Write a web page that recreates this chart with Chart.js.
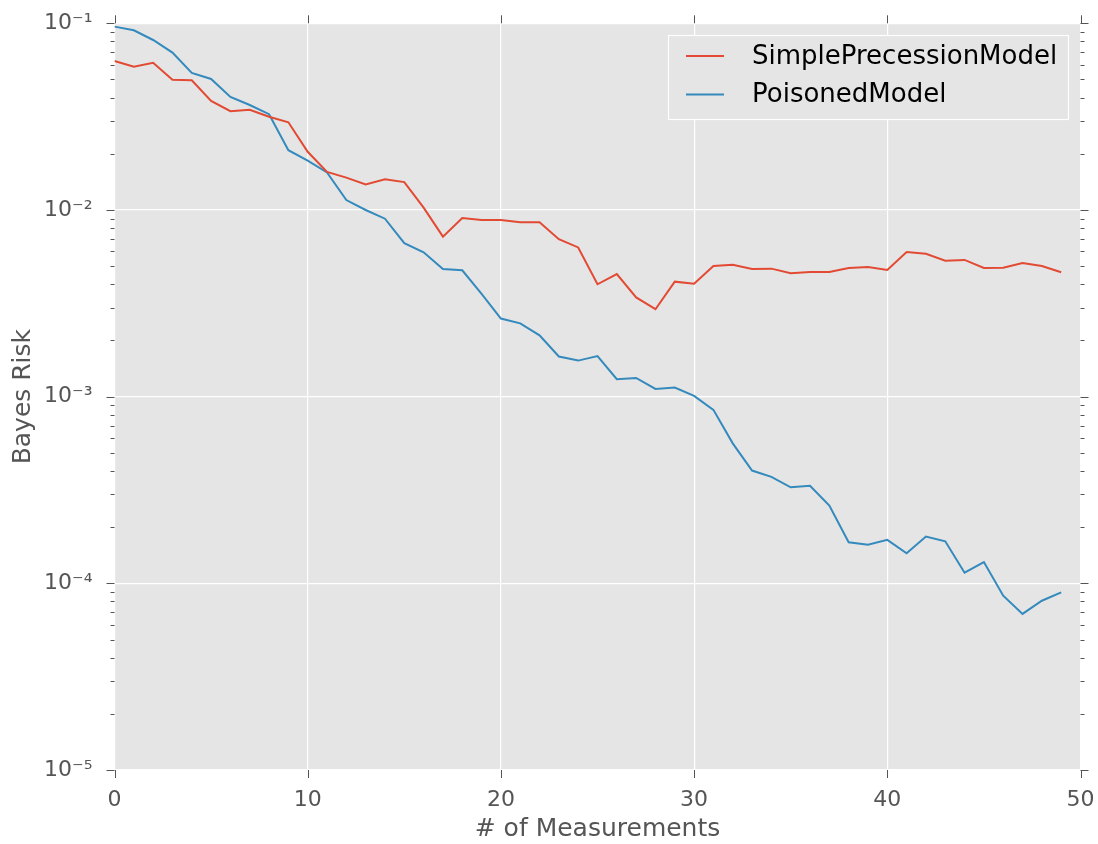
<!DOCTYPE html>
<html lang="en">
  <head>
    <meta charset="UTF-8" />
    <title>Bayes Risk vs Measurements</title>
    <script src="https://cdn.jsdelivr.net/npm/chart.js"></script>
    <style>
      html, body { margin: 0; padding: 0; background: #ffffff; }
      canvas { display: block; }
    </style>
  </head>
  <body>
    <canvas id="riskChart" width="1098" height="844"></canvas>

    <script>
      // --- data ---
      const measurements = [
        0, 1, 2, 3, 4, 5, 6, 7, 8, 9, 10, 11, 12, 13, 14, 15, 16, 17, 18, 19, 20, 21, 22, 23, 24,
        25, 26, 27, 28, 29, 30, 31, 32, 33, 34, 35, 36, 37, 38, 39, 40, 41, 42, 43, 44, 45, 46, 47, 48, 49,
      ];

      const simplePrecessionRisk = [
        0.0628, 0.0585, 0.0615, 0.0499, 0.0495, 0.0384, 0.0338, 0.0344, 0.0316, 0.0295,
        0.0205, 0.016, 0.0149, 0.0137, 0.0146, 0.0141, 0.0103, 0.0072, 0.00906, 0.00884,
        0.00884, 0.0086, 0.0086, 0.00697, 0.0063, 0.004, 0.00454, 0.0034, 0.00294, 0.00413,
        0.00403, 0.00501, 0.00509, 0.00483, 0.00485, 0.00458, 0.00466, 0.00466, 0.00489, 0.00495,
        0.00477, 0.00596, 0.00583, 0.00535, 0.0054, 0.00489, 0.0049, 0.0052, 0.00501, 0.00464,
      ];

      const poisonedRisk = [
        0.096, 0.0917, 0.0814, 0.0697, 0.0542, 0.0503, 0.0403, 0.0365, 0.0326, 0.0209,
        0.0184, 0.0159, 0.0113, 0.01, 0.00898, 0.00664, 0.00593, 0.00483, 0.00475, 0.00355,
        0.00262, 0.00247, 0.00213, 0.00164, 0.00156, 0.00165, 0.00124, 0.00126, 0.0011, 0.00112,
        0.00101, 0.00085, 0.000562, 0.000402, 0.000372, 0.000327, 0.000333, 0.000261, 0.000166, 0.000161,
        0.000171, 0.000145, 0.000178, 0.000168, 0.000114, 0.00013, 0.0000859, 0.0000686, 0.0000807, 0.0000895,
      ];

      const seriesNames = ["SimplePrecessionModel", "PoisonedModel"];
      const xTickValues = [0, 10, 20, 30, 40, 50];
      const yTickValues = [1e-5, 1e-4, 1e-3, 1e-2, 1e-1];
      const yTickLabels = ["10\u207B\u2075", "10\u207B\u2074", "10\u207B\u00B3", "10\u207B\u00B2", "10\u207B\u00B9"];

      const FONT = "'DejaVu Sans', 'Liberation Sans', sans-serif";
      const TEXT_GREY = "#555555";
      const PANEL_BG = "#E5E5E5";

      // grey panel behind the plot
      const panelBackground = {
        id: "panelBackground",
        beforeDraw(chart) {
          const { ctx, chartArea: a } = chart;
          ctx.save();
          ctx.fillStyle = PANEL_BG;
          ctx.fillRect(a.left, a.top, a.right - a.left, a.bottom - a.top);
          ctx.restore();
        },
      };

      // outward tick marks on all four sides, plus log minor ticks
      const tickMarks = {
        id: "tickMarks",
        afterDraw(chart) {
          const { ctx, chartArea: a } = chart;
          const xs = chart.scales.x;
          const ys = chart.scales.y;
          ctx.save();
          ctx.strokeStyle = TEXT_GREY;
          ctx.lineWidth = 1;
          ctx.beginPath();
          xTickValues.forEach((v) => {
            const px = Math.round(xs.getPixelForValue(v)) + 0.5;
            ctx.moveTo(px, a.bottom);
            ctx.lineTo(px, a.bottom + 8);
            ctx.moveTo(px, a.top);
            ctx.lineTo(px, a.top - 8);
          });
          yTickValues.forEach((v) => {
            const py = Math.round(ys.getPixelForValue(v)) + 0.5;
            ctx.moveTo(a.left, py);
            ctx.lineTo(a.left - 8, py);
            ctx.moveTo(a.right, py);
            ctx.lineTo(a.right + 8, py);
          });
          yTickValues.slice(0, -1).forEach((base) => {
            for (let m = 2; m <= 9; m++) {
              const py = Math.round(ys.getPixelForValue(base * m)) + 0.5;
              ctx.moveTo(a.left, py);
              ctx.lineTo(a.left - 4, py);
              ctx.moveTo(a.right, py);
              ctx.lineTo(a.right + 4, py);
            }
          });
          ctx.stroke();
          ctx.restore();
        },
      };

      // legend box inside the upper right of the plot
      const insideLegend = {
        id: "insideLegend",
        afterDraw(chart) {
          const { ctx } = chart;
          const box = { left: 668.5, top: 35.5, right: 1068.5, bottom: 119.5 };
          const rows = [56, 94.5];
          ctx.save();
          ctx.fillStyle = PANEL_BG;
          ctx.fillRect(box.left, box.top, box.right - box.left, box.bottom - box.top);
          ctx.strokeStyle = "#ffffff";
          ctx.lineWidth = 1.2;
          ctx.strokeRect(box.left, box.top, box.right - box.left, box.bottom - box.top);
          ctx.font = "26px " + FONT;
          ctx.textBaseline = "middle";
          ctx.textAlign = "left";
          chart.data.datasets.forEach((ds, i) => {
            ctx.strokeStyle = ds.borderColor;
            ctx.lineWidth = 2;
            ctx.beginPath();
            ctx.moveTo(686, rows[i]);
            ctx.lineTo(724, rows[i]);
            ctx.stroke();
            ctx.fillStyle = "#000000";
            ctx.fillText(ds.label, 752, rows[i] + 1);
          });
          ctx.restore();
        },
      };

      const ctx = document.getElementById("riskChart").getContext("2d");
      new Chart(ctx, {
        type: "line",
        data: {
          labels: measurements,
          datasets: [
            {
              label: seriesNames[0],
              data: simplePrecessionRisk,
              borderColor: "#E24A33",
              borderWidth: 2,
              pointRadius: 0,
              tension: 0,
            },
            {
              label: seriesNames[1],
              data: poisonedRisk,
              borderColor: "#348ABD",
              borderWidth: 2,
              pointRadius: 0,
              tension: 0,
            },
          ],
        },
        options: {
          responsive: false,
          animation: false,
          devicePixelRatio: 1,
          layout: { padding: { top: 23.3, right: 17.5, left: 0, bottom: 0 } },
          plugins: {
            legend: { display: false },
            tooltip: { enabled: false },
          },
          scales: {
            x: {
              type: "linear",
              min: 0,
              max: 50,
              afterBuildTicks(scale) {
                scale.ticks = xTickValues.map((v) => ({ value: v }));
              },
              afterFit(scale) {
                scale.height = 74;
                scale.paddingLeft = 0;
                scale.paddingRight = 0;
              },
              grid: { color: "#ffffff", lineWidth: 1.2, drawTicks: false },
              border: { display: false },
              ticks: {
                color: TEXT_GREY,
                font: { family: FONT, size: 22 },
                padding: 17,
                maxRotation: 0,
                autoSkip: false,
              },
              title: {
                display: true,
                text: "# of Measurements",
                color: TEXT_GREY,
                font: { family: FONT, size: 25 },
                padding: { top: 0, bottom: 0 },
              },
            },
            y: {
              type: "logarithmic",
              min: 1e-5,
              max: 1e-1,
              afterBuildTicks(scale) {
                scale.ticks = yTickValues.map((v) => ({ value: v }));
              },
              afterFit(scale) {
                scale.width = 114.5;
                scale.paddingTop = 0;
                scale.paddingBottom = 0;
              },
              grid: { color: "#ffffff", lineWidth: 1.2, drawTicks: false },
              border: { display: false },
              ticks: {
                color: TEXT_GREY,
                font: { family: FONT, size: 22 },
                padding: 22,
                autoSkip: false,
                callback: (value, index) => yTickLabels[index],
              },
              title: {
                display: true,
                text: "Bayes Risk",
                color: TEXT_GREY,
                font: { family: FONT, size: 25 },
                padding: { top: 8, bottom: 0 },
              },
            },
          },
        },
        plugins: [panelBackground, tickMarks, insideLegend],
      });
    </script>
  </body>
</html>
